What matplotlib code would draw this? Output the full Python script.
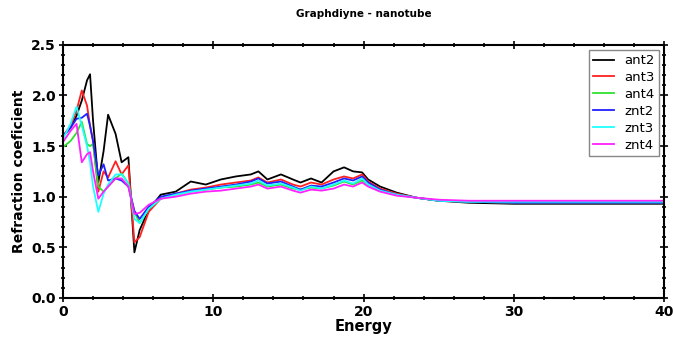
import matplotlib
matplotlib.use("Agg")
import matplotlib.pyplot as plt
from matplotlib.ticker import MultipleLocator

energy = [0, 0.5, 0.9, 1.25, 1.6, 1.8, 2.0, 2.35, 2.7, 3.0, 3.5, 3.9, 4.35, 4.75, 5.1,
          5.7, 6.5, 7.5, 8.5, 9.5, 10.5, 11.5, 12.5, 13.0, 13.6, 14.5, 15.3, 15.8, 16.5,
          17.2, 18.0, 18.7, 19.3, 19.9, 20.3, 21.1, 22.2, 23.5, 25, 27, 30, 33, 36, 40]

ant2 = [1.60, 1.68, 1.80, 1.95, 2.15, 2.21, 1.75, 1.14, 1.45, 1.81, 1.62, 1.34, 1.39, 0.45, 0.67,
        0.87, 1.02, 1.05, 1.15, 1.12, 1.17, 1.20, 1.22, 1.25, 1.17, 1.22, 1.17, 1.14, 1.18,
        1.14, 1.25, 1.29, 1.25, 1.24, 1.17, 1.10, 1.04, 0.99, 0.96, 0.94, 0.93, 0.93, 0.93, 0.93]
ant3 = [1.60, 1.70, 1.85, 2.05, 1.90, 1.70, 1.55, 1.05, 1.25, 1.19, 1.35, 1.22, 1.31, 0.55, 0.60,
        0.85, 0.98, 1.03, 1.07, 1.09, 1.12, 1.14, 1.16, 1.19, 1.14, 1.17, 1.12, 1.10, 1.14,
        1.12, 1.17, 1.20, 1.18, 1.22, 1.15, 1.08, 1.03, 0.99, 0.96, 0.95, 0.94, 0.94, 0.94, 0.94]
ant4 = [1.49, 1.55, 1.63, 1.74, 1.52, 1.50, 1.52, 1.10, 1.05, 1.10, 1.18, 1.23, 1.13, 0.85, 0.74,
        0.88, 0.98, 1.02, 1.05, 1.07, 1.09, 1.10, 1.12, 1.14, 1.10, 1.12, 1.08, 1.07, 1.09,
        1.08, 1.11, 1.15, 1.12, 1.16, 1.12, 1.06, 1.02, 0.99, 0.96, 0.95, 0.94, 0.94, 0.94, 0.94]
znt2 = [1.60, 1.68, 1.77, 1.78, 1.82, 1.70, 1.55, 1.21, 1.32, 1.16, 1.18, 1.16, 1.10, 0.86, 0.78,
        0.90, 1.00, 1.03, 1.06, 1.08, 1.10, 1.12, 1.15, 1.18, 1.13, 1.15, 1.10, 1.07, 1.11,
        1.10, 1.14, 1.18, 1.16, 1.20, 1.14, 1.07, 1.02, 0.99, 0.96, 0.95, 0.94, 0.94, 0.94, 0.94]
znt3 = [1.57, 1.72, 1.89, 1.70, 1.50, 1.34, 1.10, 0.85, 1.03, 1.12, 1.22, 1.22, 1.13, 0.78, 0.74,
        0.88, 0.98, 1.02, 1.05, 1.07, 1.09, 1.11, 1.13, 1.16, 1.11, 1.13, 1.09, 1.06, 1.10,
        1.08, 1.12, 1.16, 1.13, 1.18, 1.12, 1.06, 1.02, 0.99, 0.96, 0.95, 0.95, 0.95, 0.95, 0.95]
znt4 = [1.54, 1.65, 1.72, 1.34, 1.42, 1.44, 1.25, 0.98, 1.05, 1.10, 1.18, 1.18, 1.10, 0.83, 0.84,
        0.92, 0.98, 1.00, 1.03, 1.05, 1.06, 1.08, 1.10, 1.12, 1.08, 1.10, 1.06, 1.04, 1.07,
        1.06, 1.08, 1.12, 1.10, 1.14, 1.10, 1.05, 1.01, 0.99, 0.97, 0.96, 0.96, 0.96, 0.96, 0.96]

labels = ["ant2", "ant3", "ant4", "znt2", "znt3", "znt4"]
colors = ["black", "#ff2020", "#30e030", "#2020ff", "#20ffff", "#ff20ff"]

fig = plt.figure(figsize=(6.73, 3.48), dpi=100)
ax = fig.add_axes([0.0936, 0.144, 0.8934, 0.727])

for y, lab, c in zip([ant2, ant3, ant4, znt2, znt3, znt4], labels, colors):
    ax.plot(energy, y, color=c, lw=1.3, label=lab)

ax.set_xlim(0, 40)
ax.set_ylim(0, 2.5)
ax.xaxis.set_major_locator(MultipleLocator(10))
ax.xaxis.set_minor_locator(MultipleLocator(2))
ax.yaxis.set_major_locator(MultipleLocator(0.5))
ax.yaxis.set_minor_locator(MultipleLocator(0.1))
ax.tick_params(which="both", direction="inout", top=True, right=True, width=1.2)
ax.tick_params(which="major", length=6, labelsize=10, pad=2)
ax.tick_params(which="minor", length=3)
for t in ax.get_xticklabels() + ax.get_yticklabels():
    t.set_fontweight("bold")
for s in ax.spines.values():
    s.set_linewidth(1.5)

ax.set_title("Graphdiyne - nanotube", fontsize=7.5, fontweight="bold", pad=20)
ax.set_xlabel("Energy", fontsize=10.5, fontweight="bold", labelpad=0)
ax.set_ylabel("Refraction coeficient", fontsize=10, fontweight="bold", labelpad=4)
leg = ax.legend(loc="upper right", fontsize=9.5, fancybox=False, framealpha=1,
                handlelength=1.6, labelspacing=0.3, borderpad=0.3, borderaxespad=0.4)
leg.get_frame().set_edgecolor("#888888")

fig.savefig("out.png", dpi=100)
